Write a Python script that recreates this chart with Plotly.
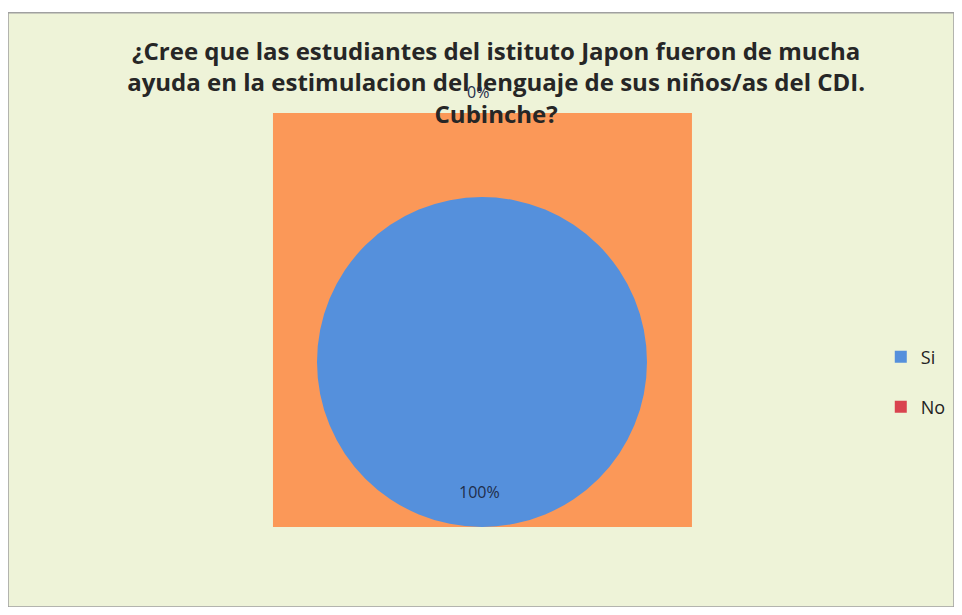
import plotly.graph_objects as go

categories = ["Si", "No"]
values = [100, 0]
colors = ["#5590dc", "#d9434f"]

title_text = ("¿Cree que las estudiantes del istituto Japon fueron de mucha<br>"
              "ayuda en la estimulacion del lenguaje de sus niños/as del CDI.<br>"
              "Cubinche?")

total = sum(values)
pct = [f"{v / total:.0%}" for v in values]

fig = go.Figure()
fig.add_trace(go.Pie(
    labels=[c + "<br> " for c in categories],
    values=values,
    marker=dict(colors=colors),
    sort=False,
    direction="clockwise",
    rotation=0,
    textinfo="none",
    showlegend=True,
    domain=dict(x=[0.3266, 0.6755], y=[0.1336, 0.6845]),
    hovertemplate="%{label}: %{percent}<extra></extra>",
))

label_font = dict(family="Open Sans", size=16, color="#1f2d4a")

fig.update_layout(
    width=946, height=599,
    margin=dict(l=0, r=0, t=0, b=0),
    paper_bgcolor="#ffffff",
    title=dict(text=title_text, x=0.516, xanchor="center", y=0.913, yanchor="top",
               font=dict(family="Open Sans", size=24, color="#262626", weight="bold")),
    legend=dict(x=0.9226, y=0.448, xanchor="left", yanchor="top", valign="top",
                font=dict(family="Open Sans", size=18, color="#222"),
                bgcolor="rgba(0,0,0,0)"),
    shapes=[
        dict(type="rect", xref="paper", yref="paper", x0=0.0, x1=1.0, y0=0.0, y1=0.992,
             fillcolor="#eef3d8", line=dict(color="#a0a0a0", width=1.5), layer="below"),
        dict(type="rect", xref="paper", yref="paper", x0=0.2801, x1=0.7230, y0=0.1336, y1=0.8247,
             fillcolor="#fb9858", line=dict(width=0), layer="below"),
    ],
    annotations=[
        dict(text=pct[1], x=0.4968, y=0.8598, xref="paper", yref="paper",
             xanchor="center", yanchor="middle", showarrow=False, font=label_font),
        dict(text=pct[0], x=0.4989, y=0.192, xref="paper", yref="paper",
             xanchor="center", yanchor="middle", showarrow=False, font=label_font),
    ],
)

fig.write_html("out.html")
